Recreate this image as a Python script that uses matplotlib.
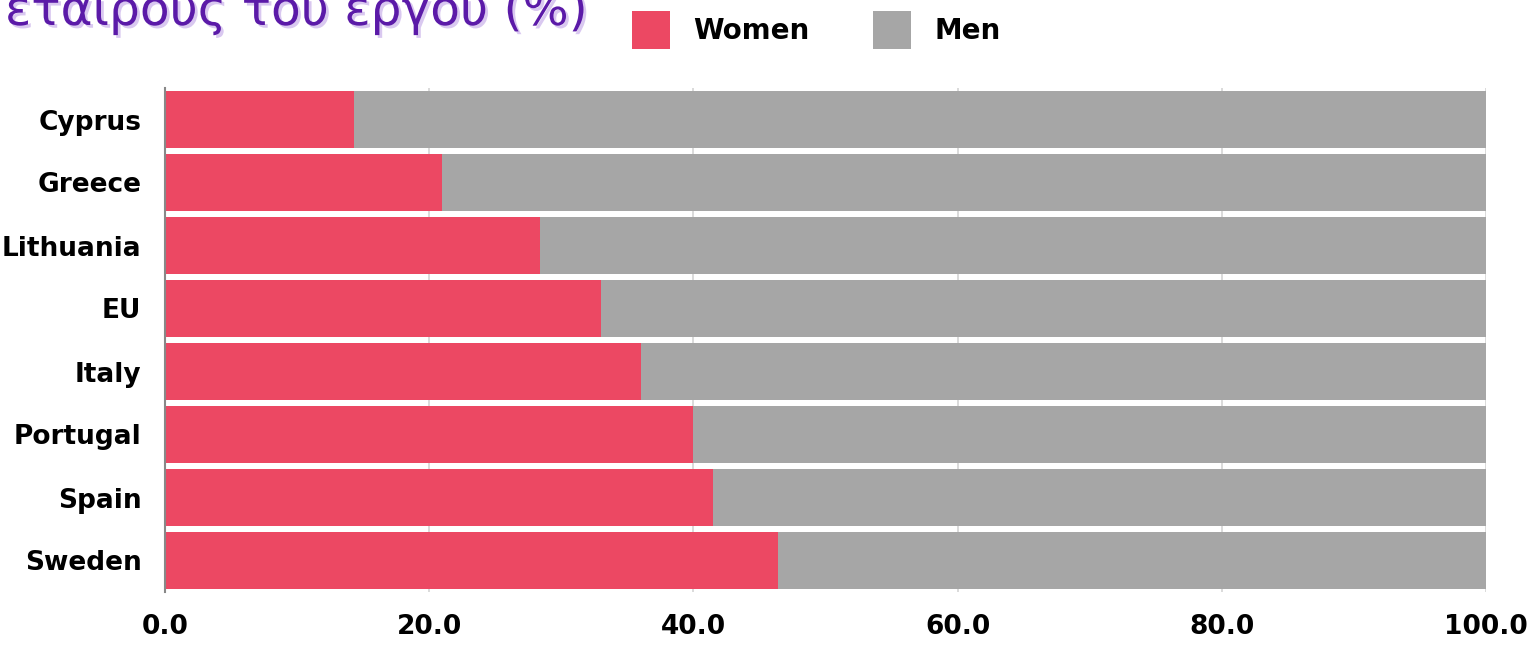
import matplotlib.pyplot as plt
import matplotlib.patheffects as pe
from matplotlib.patches import Patch

countries = ["Cyprus", "Greece", "Lithuania", "EU", "Italy", "Portugal", "Spain", "Sweden"]
women = [14.3, 21.0, 28.4, 33.0, 36.0, 40.0, 41.5, 46.4]
men = [100 - w for w in women]
xticks = [0, 20, 40, 60, 80, 100]

RED = "#ec4863"
GREY = "#a6a6a6"
PURPLE = "#5b1aa8"

plt.rcParams["font.family"] = ["DejaVu Sans"]

fig = plt.figure(figsize=(15.33, 6.45), dpi=100)
ax = fig.add_axes([165 / 1533, 53 / 645, (1486 - 165) / 1533, (592 - 88) / 645])

y = list(range(len(countries)))
ax.barh(y, women, height=0.91, color=RED, zorder=2)
ax.barh(y, men, left=women, height=0.91, color=GREY, zorder=2)

ax.set_ylim(len(countries) - 0.5, -0.5)
ax.set_xlim(0, 100)
ax.set_yticks(y)
ax.set_yticklabels(countries, fontsize=19, fontweight="bold")
ax.set_xticks(xticks)
ax.set_xticklabels([f"{t:.1f}" for t in xticks], fontsize=19, fontweight="bold")
ax.tick_params(axis="both", length=0)
ax.tick_params(axis="x", pad=16)
ax.tick_params(axis="y", pad=17)
ax.grid(axis="x", color="#d4d4d4", linewidth=1.2, zorder=0)
for s in ["top", "right", "bottom"]:
    ax.spines[s].set_visible(False)
ax.spines["left"].set_color("#888888")
ax.spines["left"].set_linewidth(1.5)

handles = [Patch(facecolor=RED, label="Women"), Patch(facecolor=GREY, label="Men")]
leg = fig.legend(handles=handles, loc="upper left", bbox_to_anchor=(632 / 1533, 1 - 11 / 645),
                 ncol=2, frameon=False, borderpad=0, borderaxespad=0,
                 handlelength=1.35, handleheight=1.7, handletextpad=0.85, columnspacing=2.3,
                 prop={"size": 20, "weight": "bold"})

t = fig.text(5 / 1533, 620 / 645, "εταίρους του έργου (%)", color=PURPLE, fontsize=35,
             fontweight="medium", va="baseline", ha="left")
t.set_path_effects([pe.SimplePatchShadow(offset=(2, -2), shadow_rgbFace="#d9c8f0", alpha=1),
                    pe.Normal()])

fig.savefig("out.png", dpi=100)
